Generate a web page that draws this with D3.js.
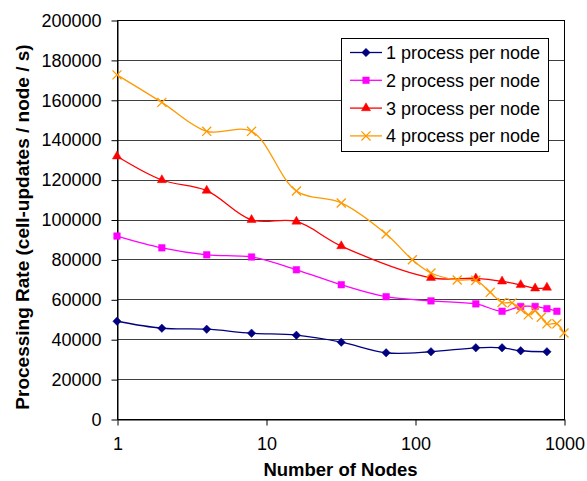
<!DOCTYPE html>
<html><head><meta charset="utf-8">
<script src="https://cdn.jsdelivr.net/npm/d3@7"></script>
<style>body{margin:0;background:#fff}svg{display:block}text{font-family:Arial,"Liberation Sans",sans-serif}</style>
</head><body><div id="chart"></div>
<script>
const seriesNames = ["1 process per node","2 process per node","3 process per node","4 process per node"];
const nodes1 = [1,2,4,8,16,32,64,128,256,384,512,768];
const rate1 = [49000,45500,45000,43000,42000,38500,33200,33700,35700,35700,34200,33700];
const nodes2 = [1,2,4,8,16,32,64,128,256,384,512,640,768,896];
const rate2 = [91700,85800,82300,81200,74800,67300,61300,59200,57700,54000,56400,56400,55300,54000];
const nodes3 = [1,2,4,8,16,32,128,256,384,512,640,768];
const rate3 = [131700,119800,114500,99800,99000,86700,70800,70500,69000,67200,65500,65900];
const nodes4 = [1,2,4,8,16,32,64,96,128,192,256,320,384,448,512,576,640,704,768,896,1000];
const rate4 = [172500,158700,144200,144200,114300,108300,92700,79800,73200,69700,69500,63500,58400,58200,55000,52200,54200,51000,47700,47700,43100];
const xTicks = [1,10,100,1000];
const yTicks = [0,20000,40000,60000,80000,100000,120000,140000,160000,180000,200000];
const colors = ["#000080","#FF00FF","#FF0000","#FF9900"];
const symbols = [d3.symbolDiamond2, d3.symbolSquare2, d3.symbolTriangle2, d3.symbolX];

const W=587,H=481;
const m={left:117,right:23,top:20,bottom:62};
const svg=d3.select("#chart").append("svg").attr("width",W).attr("height",H);
const x=d3.scaleLog().domain([1,1000]).range([m.left,W-m.right]);
const y=d3.scaleLinear().domain([0,200000]).range([H-m.bottom,m.top]);

// gridlines
svg.append("g").selectAll("line").data(yTicks.filter(d=>d>0)).join("line")
  .attr("x1",m.left).attr("x2",W-m.right).attr("y1",d=>Math.round(y(d))+0.5).attr("y2",d=>Math.round(y(d))+0.5)
  .attr("stroke","#404040").attr("stroke-width",1);
// border
svg.append("rect").attr("x",m.left+0.5).attr("y",m.top+0.5).attr("width",W-m.right-m.left).attr("height",H-m.bottom-m.top)
  .attr("fill","none").attr("stroke","#000");

const yAxis=svg.append("g").attr("transform",`translate(${m.left+0.5},0.5)`)
  .call(d3.axisLeft(y).tickValues(yTicks).tickFormat(d3.format("d")).tickSize(6).tickSizeOuter(0).tickPadding(10));
yAxis.selectAll("text").attr("font-size",18).attr("fill","#000");
yAxis.select(".domain").attr("stroke","#000");
const xAxis=svg.append("g").attr("transform",`translate(0.5,${H-m.bottom+0.5})`)
  .call(d3.axisBottom(x).tickValues(xTicks).tickFormat(d3.format("d")).tickSize(6).tickSizeOuter(0).tickPadding(12));
xAxis.selectAll("text").attr("font-size",18).attr("fill","#000");
xAxis.select(".domain").attr("stroke","#000");

svg.append("text").attr("x",(m.left+W-m.right)/2).attr("y",476).attr("text-anchor","middle")
  .attr("font-size",18.5).attr("font-weight","bold").text("Number of Nodes");
svg.append("text").attr("transform",`translate(29,227) rotate(-90)`).attr("text-anchor","middle")
  .attr("font-size",19).attr("font-weight","bold").text("Processing Rate (cell-updates / node / s)");

const data=[[nodes1,rate1],[nodes2,rate2],[nodes3,rate3],[nodes4,rate4]];
const line=d3.line().x(d=>x(d[0])).y(d=>y(d[1])).curve(d3.curveCatmullRom.alpha(0.5));
const sizes=[45,55,60,55];
data.forEach(([xs,ys],i)=>{
  const pts=xs.map((v,j)=>[v,ys[j]]);
  svg.append("path").datum(pts).attr("d",line).attr("fill","none").attr("stroke",colors[i]).attr("stroke-width",1.3);
  const sym=d3.symbol().type(symbols[i]).size(sizes[i]);
  svg.append("g").selectAll("path").data(pts).join("path")
    .attr("transform",d=>`translate(${x(d[0])},${y(d[1])})`).attr("d",sym)
    .attr("fill",i===3?"none":colors[i]).attr("stroke",colors[i]).attr("stroke-width",i===3?1.3:0.5);
});

// legend
const lg=svg.append("g");
lg.append("rect").attr("x",341.5).attr("y",38.5).attr("width",207).attr("height",113).attr("fill","#fff").attr("stroke","#000");
seriesNames.forEach((n,i)=>{
  const yy=52.5+i*27.8;
  lg.append("line").attr("x1",350).attr("x2",382).attr("y1",yy).attr("y2",yy).attr("stroke",colors[i]).attr("stroke-width",1.3);
  lg.append("path").attr("transform",`translate(366,${yy})`).attr("d",d3.symbol().type(symbols[i]).size(sizes[i])())
    .attr("fill",i===3?"none":colors[i]).attr("stroke",colors[i]).attr("stroke-width",i===3?1.3:0.5);
  lg.append("text").attr("x",386).attr("y",yy+6.5).attr("font-size",18).text(n);
});
</script></body></html>
